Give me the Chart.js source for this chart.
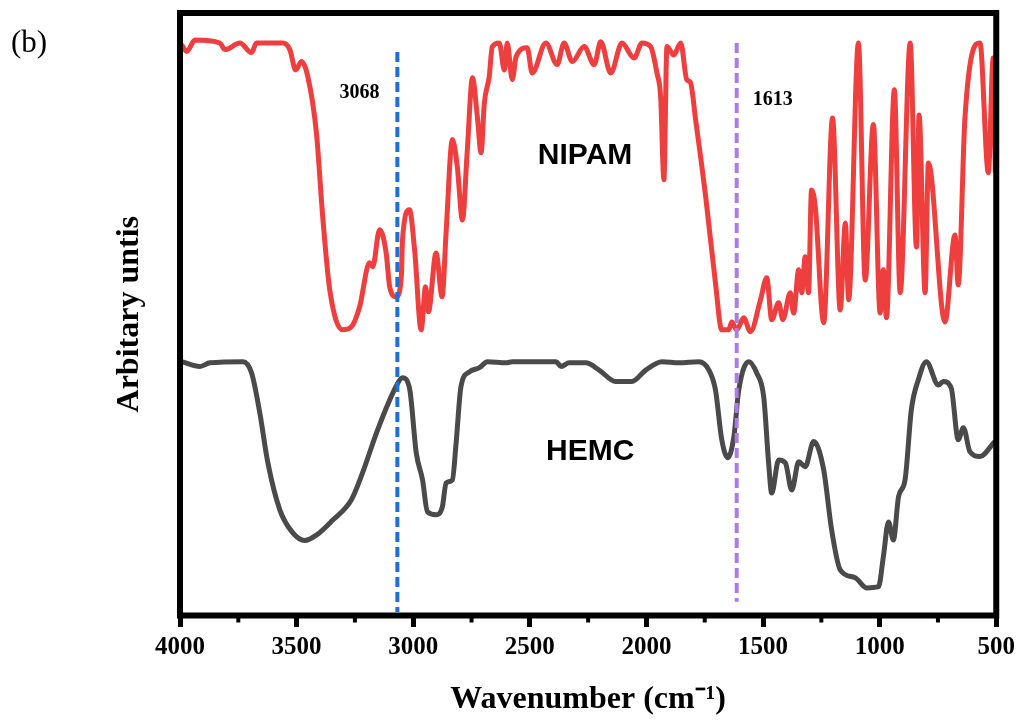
<!DOCTYPE html>
<html>
<head>
<meta charset="utf-8">
<title>FTIR - NIPAM / HEMC</title>
<script src="https://cdn.jsdelivr.net/npm/chart.js@4.4.1/dist/chart.umd.min.js"></script>
<style>
    html, body { margin: 0; padding: 0; background: #fff; }
</style>
</head>
<body>
<canvas id="chart-ftir" width="1021" height="722"></canvas>
<script>
// NIPAM spectrum (red)
const nipamWavenumber = [3993, 3971, 3936, 3829, 3807, 3743, 3693, 3672, 3559, 3529,
    3504, 3479, 3452, 3415, 3388, 3358, 3303, 3265, 3230, 3187,
    3174, 3144, 3116, 3101, 3073, 3051, 3046, 3016, 2994, 2966,
    2947, 2935, 2902, 2876, 2859, 2832, 2811, 2789, 2768, 2746,
    2725, 2709, 2695, 2674, 2661, 2631, 2609, 2597, 2575, 2559,
    2511, 2490, 2431, 2383, 2353, 2318, 2267, 2224, 2196, 2153,
    2105, 2053, 2019, 1982, 1955, 1939, 1925, 1912, 1883, 1853,
    1827, 1811, 1789, 1746, 1704, 1677, 1647, 1634, 1613, 1583,
    1554, 1511, 1484, 1463, 1433, 1415, 1383, 1369, 1347, 1334,
    1319, 1305, 1292, 1276, 1240, 1202, 1169, 1147, 1133, 1091,
    1062, 1027, 998, 984, 971, 937, 912, 869, 842, 831,
    805, 791, 720, 677, 663, 634, 570, 534, 513, 504];
const nipamSignal = [94.5, 93.4, 95.3, 94.8, 93.7, 94.8, 93.2, 94.8, 94.8, 93.7,
    90.3, 91.7, 89.2, 79.8, 65.8, 53.7, 47.0, 47.5, 50.8, 58.2,
    57.5, 63.7, 59.8, 54.2, 52.5, 55.8, 62.0, 67.0, 60.3, 47.0,
    54.2, 50.0, 59.8, 52.5, 63.2, 78.7, 74.2, 65.3, 77.0, 89.0,
    82.5, 76.5, 84.8, 89.2, 94.2, 94.8, 90.3, 94.8, 88.7, 92.5,
    94.0, 89.8, 94.8, 91.2, 94.8, 91.7, 94.2, 91.2, 95.0, 89.8,
    94.8, 92.3, 94.8, 94.2, 89.8, 85.8, 72.0, 94.2, 92.8, 94.8,
    88.7, 88.2, 82.0, 69.2, 54.8, 47.0, 47.0, 48.3, 47.0, 49.0,
    46.7, 52.0, 55.7, 48.7, 51.5, 48.7, 53.2, 49.8, 57.0, 53.2,
    59.2, 53.2, 70.3, 67.5, 48.2, 82.3, 50.3, 64.8, 52.0, 94.8,
    55.3, 81.2, 49.8, 57.0, 49.0, 87.0, 53.2, 94.8, 60.8, 82.8,
    53.2, 74.8, 48.3, 62.8, 54.5, 82.5, 94.8, 73.2, 92.3, 73.2];

// HEMC spectrum (grey)
const hemcWavenumber = [3993, 3914, 3872, 3730, 3693, 3658, 3623, 3572, 3517, 3465,
    3415, 3345, 3265, 3217, 3153, 3073, 3046, 3016, 2987, 2960,
    2939, 2902, 2875, 2859, 2832, 2816, 2795, 2759, 2716, 2682,
    2602, 2575, 2388, 2366, 2331, 2260, 2203, 2132, 2062, 2003,
    1933, 1861, 1775, 1732, 1704, 1677, 1651, 1625, 1604, 1561,
    1527, 1497, 1476, 1463, 1433, 1404, 1377, 1347, 1319, 1283,
    1240, 1206, 1169, 1105, 1056, 1005, 984, 962, 941, 919,
    891, 864, 834, 800, 748, 727, 693, 663, 641, 613,
    570, 506];
const hemcSignal = [41.7, 40.9, 41.5, 41.7, 39.8, 33.2, 24.8, 17.0, 13.2, 11.9,
    12.8, 15.3, 18.7, 23.2, 30.3, 37.6, 39.0, 37.3, 26.5, 22.0,
    16.7, 16.2, 17.5, 21.5, 22.0, 28.2, 37.6, 40.0, 40.7, 41.7,
    41.5, 41.7, 41.7, 40.9, 41.5, 41.5, 40.3, 38.4, 38.4, 40.3,
    41.7, 41.5, 41.7, 40.3, 37.0, 28.7, 25.7, 29.2, 37.0, 41.7,
    39.8, 35.8, 24.8, 19.8, 25.3, 24.8, 20.3, 25.0, 24.2, 28.4,
    23.7, 13.7, 7.0, 5.7, 4.0, 4.2, 9.2, 15.0, 12.0, 19.2,
    22.0, 33.7, 38.7, 41.7, 37.8, 38.4, 37.3, 28.7, 30.7, 26.7,
    25.9, 28.4];

// dashed marker lines
const markerWavenumbers = [3068, 1613];
const markerTop = [93.3, 94.8];
const markerBottom = [0, 1.7];

// axis ticks
const majorTickStep = 500;
const minorTicks = [3750, 3250, 2750, 2250, 1750, 1250, 750];

const serif = '"Liberation Serif", "Times New Roman", serif';
const sans = '"Liberation Sans", Arial, sans-serif';

function toPoints(xs, ys) {
    return xs.map((x, i) => ({ x: x, y: ys[i] }));
}

function markerLine(i, color) {
    return {
        data: [
            { x: markerWavenumbers[i], y: markerTop[i] },
            { x: markerWavenumbers[i], y: markerBottom[i] }
        ],
        borderColor: color,
        borderWidth: 4,
        borderDash: [10, 5],
        pointRadius: 0,
        order: 0
    };
}

// frame, minor ticks and text labels
const decorPlugin = {
    id: 'decor',
    afterDatasetsDraw(chart) {
        const { ctx, chartArea: area, scales: { x, y } } = chart;
        ctx.save();

        ctx.strokeStyle = '#000';
        ctx.lineWidth = 6;
        ctx.strokeRect(area.left, area.top, area.right - area.left, area.bottom - area.top);

        ctx.lineWidth = 4;
        minorTicks.forEach(v => {
            const px = x.getPixelForValue(v);
            ctx.beginPath();
            ctx.moveTo(px, area.bottom);
            ctx.lineTo(px, area.bottom + 7);
            ctx.stroke();
        });

        ctx.fillStyle = '#000';
        ctx.textAlign = 'center';
        ctx.textBaseline = 'middle';

        ctx.font = 'bold 20px ' + serif;
        ctx.fillText('3068', x.getPixelForValue(3230), y.getPixelForValue(86.5));
        ctx.fillText('1613', x.getPixelForValue(1458), y.getPixelForValue(85.3));

        ctx.font = 'bold 30px ' + sans;
        ctx.fillText('NIPAM', x.getPixelForValue(2263), y.getPixelForValue(76));
        ctx.fillText('HEMC', x.getPixelForValue(2241), y.getPixelForValue(26.7));

        ctx.textAlign = 'left';
        ctx.font = '31px ' + serif;
        ctx.fillText('(b)', 11, 44);

        ctx.restore();
    }
};

const chart = new Chart(
    document.querySelector('#chart-ftir'),
    {
        type: 'line',
        data: {
            datasets: [
                markerLine(0, '#1f6fd9'),
                markerLine(1, '#a97de2'),
                {
                    label: 'NIPAM',
                    data: toPoints(nipamWavenumber, nipamSignal),
                    borderColor: '#ee3e3e',
                    borderWidth: 5,
                    pointRadius: 0,
                    cubicInterpolationMode: 'monotone',
                    order: 1
                },
                {
                    label: 'HEMC',
                    data: toPoints(hemcWavenumber, hemcSignal),
                    borderColor: '#4a4a4a',
                    borderWidth: 5,
                    pointRadius: 0,
                    cubicInterpolationMode: 'monotone',
                    order: 2
                }
            ]
        },
        options: {
            responsive: false,
            animation: false,
            layout: {
                padding: { top: 13, right: 23, bottom: 0, left: 0 }
            },
            scales: {
                x: {
                    type: 'linear',
                    reverse: true,
                    min: 500,
                    max: 4000,
                    afterFit: scale => { scale.height = 106.5; },
                    border: { display: false },
                    grid: {
                        drawOnChartArea: false,
                        drawTicks: true,
                        tickLength: 11.5,
                        tickWidth: 5,
                        tickColor: '#000'
                    },
                    ticks: {
                        stepSize: majorTickStep,
                        autoSkip: false,
                        maxRotation: 0,
                        padding: 6,
                        color: '#000',
                        callback: value => String(value),
                        font: { family: serif, size: 25, weight: 'bold' }
                    },
                    title: {
                        display: true,
                        text: 'Wavenumber (cm\u207B\u00B9)',
                        color: '#000',
                        padding: { top: 0, bottom: 2.8 },
                        font: { family: serif, size: 32, weight: 'bold' }
                    }
                },
                y: {
                    min: -0.6,
                    max: 99.8,
                    afterFit: scale => { scale.width = 180; },
                    border: { display: false },
                    grid: { display: false },
                    ticks: { display: false },
                    title: {
                        display: true,
                        text: 'Arbitary untis',
                        color: '#000',
                        padding: { top: 110.8, bottom: 0 },
                        font: { family: serif, size: 32, weight: 'bold' }
                    }
                }
            },
            plugins: {
                legend: { display: false },
                tooltip: { enabled: false }
            }
        },
        plugins: [decorPlugin]
    }
);
</script>
</body>
</html>
